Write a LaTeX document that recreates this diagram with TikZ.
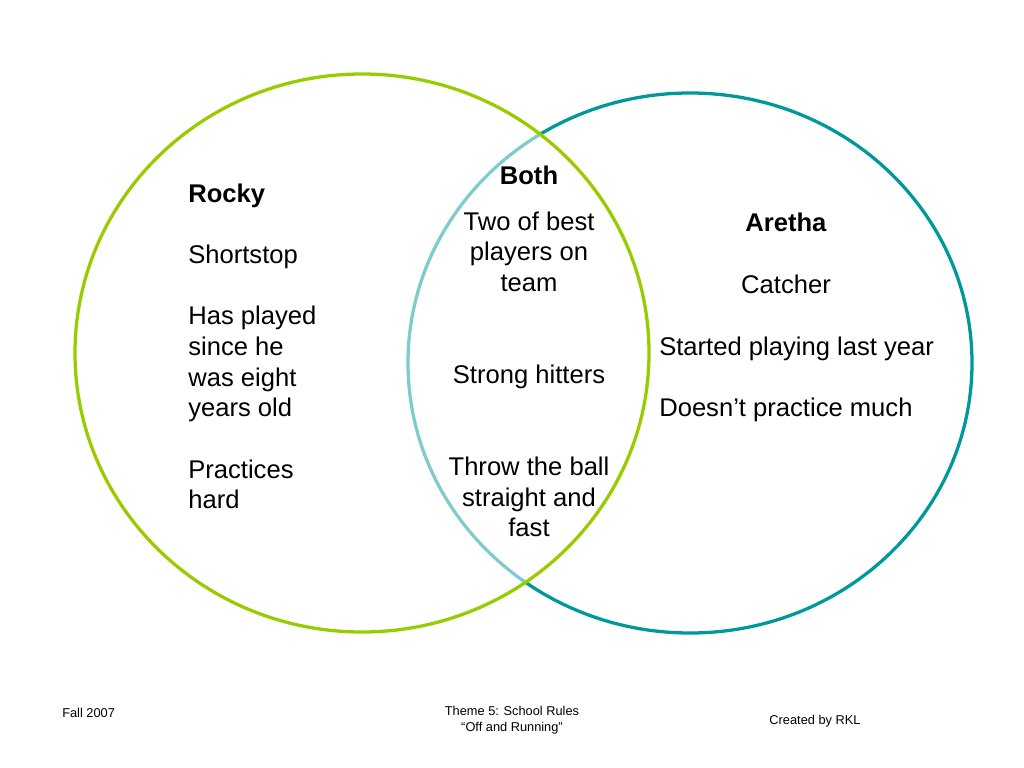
\documentclass[tikz,border=0pt]{standalone}
\usepackage{fontspec}
\setmainfont{Liberation Sans}
\definecolor{rockygreen}{RGB}{153,204,0}
\definecolor{arethateal}{RGB}{0,153,153}

\begin{document}
\begin{tikzpicture}[x=0.703125pt, y=-0.703125pt,
    every node/.style={inner sep=0pt},
    body/.style={font=\fontsize{18}{21.55}\selectfont},
    foot/.style={font=\fontsize{9}{11}\selectfont},
    ring/.style={line width=2.3pt}]
            \useasboundingbox (0,0) rectangle (1024,768); %slide size

            % circles (the half-white fill fades the teal arc inside)
            \draw[ring, arethateal] (690,363) ellipse [x radius=282, y radius=270];
            \draw[ring, rockygreen, fill=white, fill opacity=.5] (362,353) ellipse [x radius=287, y radius=279];

            % Rocky
            \node[body, align=left, anchor=north west] (rocky) at (188,183.5)
              {\textbf{Rocky}\\[21.55pt]Shortstop\\[21.55pt]Has played\\since he\\was eight\\years old\\[21.55pt]Practices\\hard};

            % Both
            \node[body] (both) at (529,175.5) {\textbf{Both}};
            \node[body, align=center, anchor=north] (shared) at (529,211.5)
              {Two of best\\players on\\team\\[43.1pt]Strong hitters\\[43.1pt]Throw the ball\\straight and\\fast};

            % Aretha
            \node[body, align=center, anchor=north] (aretha) at (786,213)
              {\textbf{Aretha}\\[21.55pt]Catcher};
            \node[body, align=left, anchor=north west] (arethanotes) at (659,336.5)
              {Started playing last year\\[21.55pt]Doesn’t practice much};

            % footer
            \node[foot, anchor=west] (date) at (62,713) {Fall 2007};
            \node[foot, align=center] (theme) at (512,720) {Theme 5: School Rules\\“Off and Running”};
            \node[foot] (credit) at (815,721) {Created by RKL};

          \end{tikzpicture}
\end{document}
